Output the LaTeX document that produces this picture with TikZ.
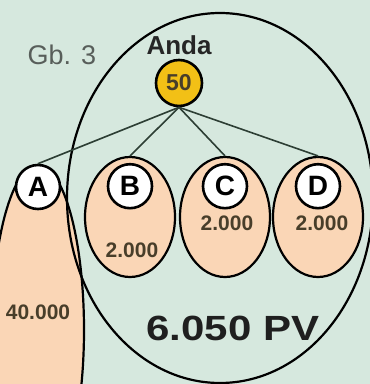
\documentclass[tikz,border=0pt]{standalone}
\usepackage{fontspec}
\setmainfont{Liberation Sans}
\usepackage{xcolor}
\definecolor{bgmint}{RGB}{214, 232, 222}
\definecolor{peach}{RGB}{250, 214, 182}
\definecolor{coinyellow}{RGB}{242, 192, 22}
\definecolor{numbrown}{RGB}{72, 62, 42}
\definecolor{linegreen}{RGB}{45, 62, 52}
\definecolor{labelgray}{RGB}{88, 94, 90}
\usepackage{tikz}
\usetikzlibrary{positioning, shapes.geometric}

\begin{document}
\begin{tikzpicture}[x=1pt, y=1pt,
    letter/.style={circle, draw, line width=2.6pt, fill=white, minimum size=44pt, inner sep=0pt, font=\fontsize{28}{28}\selectfont\bfseries},
    group/.style={ellipse, draw, line width=2.2pt, fill=peach, minimum width=90pt, minimum height=120pt, inner sep=0pt},
    amount/.style={text=numbrown, font=\fontsize{21}{21}\selectfont\bfseries},
    link/.style={draw=linegreen, line width=1.6pt}]
    \useasboundingbox (0,0) rectangle (370,384);
    \fill[bgmint] (0,0) rectangle (370,384);

    % leg A, running off the page
    \begin{scope}
        \clip (0,0) rectangle (370,384);
        \draw[line width=2.2pt, fill=peach] (38,54) ellipse (46 and 165);
    \end{scope}

    % the big group
    \draw[line width=2.2pt] (220,186) ellipse (153 and 185);

    \node[group] (ellB) at (130,167) {};
    \node[group] (ellC) at (225,167) {};
    \node[group] (ellD) at (318,167) {};

    \node[circle, draw, line width=2.6pt, fill=coinyellow, minimum size=46pt, inner sep=0pt,
          text=numbrown, font=\fontsize{23}{23}\selectfont\bfseries] (anda) at (179,301) {50};
    \node[above=0pt of anda, text=black!85, font=\fontsize{26}{26}\selectfont\bfseries] (name) {Anda};
    \node[text=labelgray, font=\fontsize{27}{27}\selectfont] (fig) at (62,329) {Gb. 3};

    \node[letter] (A) at (38,197) {A};
    \node[letter, below=7pt of ellB.north] (B) {B};
    \node[letter, below=7pt of ellC.north] (C) {C};
    \node[letter, below=7pt of ellD.north] (D) {D};

    \draw[link] (anda.south) -- (A.north);
    \draw[link] (anda.south) -- (ellB.north);
    \draw[link] (anda.south) -- (ellC.north);
    \draw[link] (anda.south) -- (ellD.north);

    \node[amount] (valA) at (38,72) {40.000};
    \node[amount] (valB) at (132,134) {2.000};
    \node[amount] (valC) at (227,161) {2.000};
    \node[amount] (valD) at (322,161) {2.000};
    \node[xscale=1.2, text=black!88, font=\fontsize{35}{35}\selectfont\bfseries] (total) at (233,56) {6.050 PV};
\end{tikzpicture}
\end{document}
